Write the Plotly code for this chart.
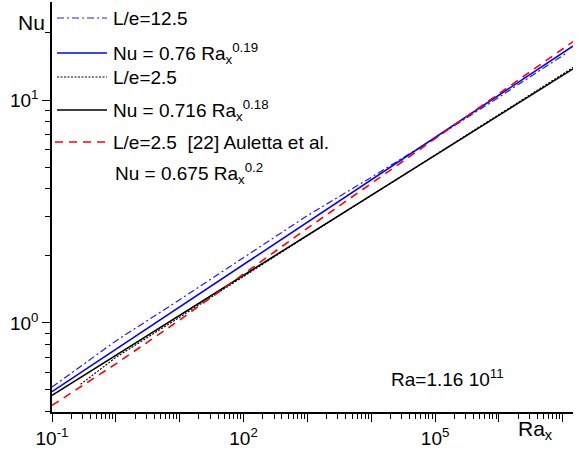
import plotly.graph_objects as go

# (log-log)
ra_le125 = [0.1, 1, 10, 100, 1e3, 1e4, 1e5, 1e6, 1e7, 1.2e7]
nu_le125 = [0.515, 0.83, 1.27, 1.97, 3.03, 4.5, 6.75, 10.3, 15.8, 16.4]

ra_fit125 = [0.1, 1.45e7]
nu_fit125 = [0.491, 17.5]

ra_le25 = [0.28, 1, 10, 100, 1e3, 1e4, 1e5, 1e6, 1e7, 1.45e7]
nu_le25 = [0.53, 0.70, 1.06, 1.62, 2.46, 3.73, 5.66, 8.6, 13.0, 14.0]

ra_fit25 = [0.1, 1.45e7]
nu_fit25 = [0.473, 13.8]

ra_auletta = [0.1, 1, 10, 100, 1e3, 1e4, 1e5, 1e6, 1e7, 1.45e7]
nu_auletta = [0.426, 0.655, 1.03, 1.66, 2.66, 4.22, 6.72, 10.7, 17.0, 18.3]

x_decades = [10.0 ** k for k in range(-1, 8)]
x_labels = {-1: "10<sup>-1</sup>", 2: "10<sup>2</sup>", 5: "10<sup>5</sup>"}
y_decades = [1, 10]
y_labels = ["10<sup>0</sup>", "10<sup>1</sup>"]

FONT = "Liberation Sans, Arial, sans-serif"
W, H = 582, 450
L, R, T, B = 52, 9, 2, 38

DASHDOT = "7px,3px,2px,3px"
DOTTED = "2px,1.5px"
DASHED = "8px,6px"


def px(x):
    return (x - L) / (W - L - R)


def py(y):
    return (H - B - y) / (H - T - B)


fig = go.Figure()
fig.add_trace(go.Scatter(x=ra_le125, y=nu_le125, mode="lines",
                         line=dict(color="#1a1aff", width=1.2, dash=DASHDOT)))
fig.add_trace(go.Scatter(x=ra_fit125, y=nu_fit125, mode="lines",
                         line=dict(color="#0000ff", width=1.6)))
fig.add_trace(go.Scatter(x=ra_le25, y=nu_le25, mode="lines",
                         line=dict(color="#000000", width=1.1, dash=DOTTED)))
fig.add_trace(go.Scatter(x=ra_fit25, y=nu_fit25, mode="lines",
                         line=dict(color="#000000", width=1.6)))
fig.add_trace(go.Scatter(x=ra_auletta, y=nu_auletta, mode="lines",
                         line=dict(color="#ff0000", width=1.6, dash=DASHED)))

minor_x = [m * 10.0 ** k for k in range(-1, 7) for m in range(2, 10)]
minor_y = [m * 0.1 for m in range(4, 10)] + [m for m in range(2, 10)] + [20]

fig.update_xaxes(type="log", range=[-1, 7.16], showgrid=False, zeroline=False,
                 showline=True, linecolor="black", linewidth=1.5, mirror=False,
                 ticks="outside", ticklen=8, tickwidth=1.3, tickcolor="black",
                 tickmode="array", tickvals=x_decades,
                 ticktext=[x_labels.get(k, "") for k in range(-1, 8)],
                 tickfont=dict(family=FONT, size=19, color="black"),
                 minor=dict(tickvals=minor_x, ticks="outside", ticklen=5,
                            tickwidth=1.2, tickcolor="black", showgrid=False))
fig.update_yaxes(type="log", range=[-0.40, 1.44], showgrid=False, zeroline=False,
                 showline=True, linecolor="black", linewidth=1.5,
                 ticks="outside", ticklen=8, tickwidth=1.3, tickcolor="black",
                 tickmode="array", tickvals=y_decades, ticktext=y_labels,
                 tickfont=dict(family=FONT, size=19, color="black"),
                 minor=dict(tickvals=minor_y, ticks="outside", ticklen=5,
                            tickwidth=1.2, tickcolor="black", showgrid=False))

# legend drawn by hand, rows at the reference's uneven spacing
legend_rows = [
    (18, "L/e=12.5", dict(color="#1a1aff", width=1.2, dash=DASHDOT)),
    (53, "Nu = 0.76 Ra<sub>x</sub><sup>0.19</sup>", dict(color="#0000ff", width=1.6)),
    (77, "L/e=2.5", dict(color="black", width=1.1, dash=DOTTED)),
    (110, "Nu = 0.716 Ra<sub>x</sub><sup>0.18</sup>", dict(color="black", width=1.6)),
    (142, "L/e=2.5  [22] Auletta et al.", dict(color="#ff0000", width=1.6, dash=DASHED)),
    (173, "Nu = 0.675 Ra<sub>x</sub><sup>0.2</sup>", None),
]
for yy, txt, ln in legend_rows:
    if ln is not None:
        x0 = 55 if ln["color"] == "#ff0000" else 57
        fig.add_shape(type="line", xref="paper", yref="paper",
                      x0=px(x0), x1=px(x0 + 50), y0=py(yy), y1=py(yy), line=ln)
    fig.add_annotation(x=px(111 if ln is not None else 113), y=py(yy), xref="paper", yref="paper",
                       text=txt, showarrow=False, xanchor="left", yanchor="middle",
                       font=dict(family=FONT, size=19, color="black"))

fig.add_annotation(x=px(16), y=py(22), xref="paper", yref="paper", text="Nu",
                   showarrow=False, xanchor="left", yanchor="middle",
                   font=dict(family=FONT, size=21, color="black"))
fig.add_annotation(x=px(516), y=py(430), xref="paper", yref="paper", text="Ra<sub>x</sub>",
                   showarrow=False, xanchor="left", yanchor="middle",
                   font=dict(family=FONT, size=21, color="black"))
fig.add_annotation(x=px(389), y=py(378), xref="paper", yref="paper",
                   text="Ra=1.16 10<sup>11</sup>",
                   showarrow=False, xanchor="left", yanchor="middle",
                   font=dict(family=FONT, size=19, color="black"))

fig.update_layout(width=W, height=H, showlegend=False,
                  margin=dict(l=L, r=R, t=T, b=B),
                  paper_bgcolor="white", plot_bgcolor="white")

# the page's default body margin would shift the whole picture by 8px
fig.write_html("out.html", config={"displayModeBar": False},
               post_script="document.body.style.margin='0';")
